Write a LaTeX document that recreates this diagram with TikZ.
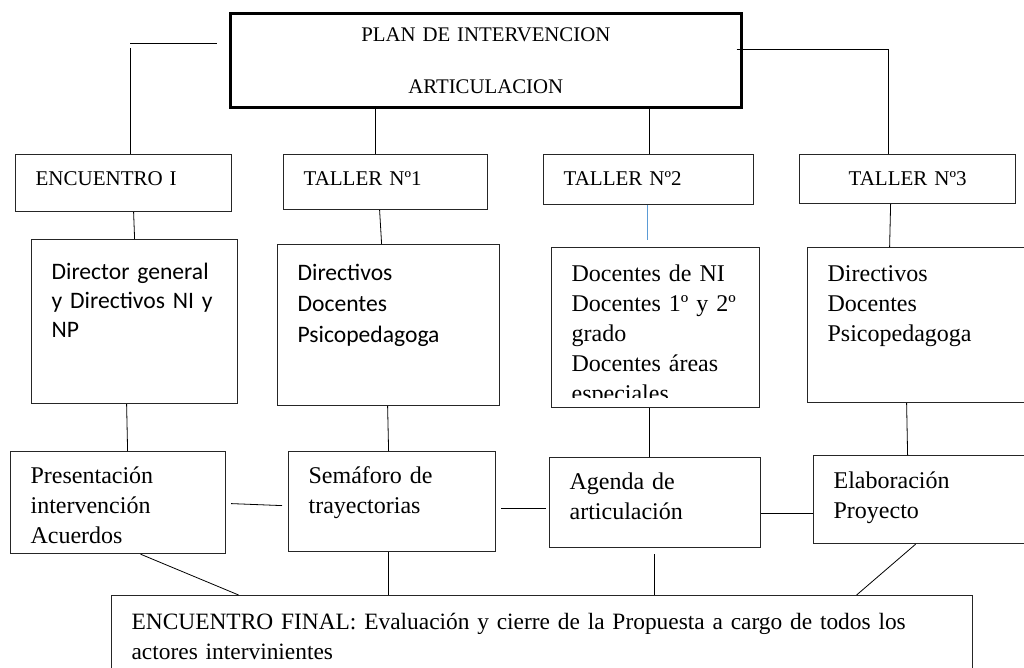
\documentclass[tikz,border=0pt]{standalone}
\usepackage{fontspec}
\setmainfont{Liberation Serif}
\newfontfamily\calibri{Carlito}
\usepackage{tikz}

\tikzset{
  caja/.style={draw=black!85, line width=1.2pt, anchor=north west,
    inner xsep=20pt, inner ysep=0pt, align=left},
  linea/.style={line width=0.8pt}
}

\begin{document}
\begin{tikzpicture}[x=1pt, y=-1pt]

\useasboundingbox (0,0) rectangle (1024,668);

% plan
\node[caja, line width=2.6pt, draw=black, align=center, text width=471pt,
  text height=28pt, text depth=66pt, font=\fontsize{20.8}{52}\selectfont]
  (top) at (229,12) {PLAN DE INTERVENCION\\ARTICULACION};

% encuentro y talleres
\node[caja, text width=176pt, text height=31pt, text depth=26pt,
  font=\fontsize{21}{26}\selectfont] (e1) at (15,154) {ENCUENTRO I};
\node[caja, text width=164pt, text height=31pt, text depth=24pt,
  font=\fontsize{21}{26}\selectfont] (t1) at (283,154) {TALLER Nº1};
\node[caja, text width=170pt, text height=31pt, text depth=19pt,
  font=\fontsize{21}{26}\selectfont] (t2) at (543,154) {TALLER Nº2};
\node[caja, align=center, text width=176pt, text height=31pt, text depth=18pt,
  font=\fontsize{21}{26}\selectfont] (t3) at (799,154) {TALLER Nº3};

% participantes
\node[caja, text width=166pt, text height=40pt, text depth=124pt,
  font=\calibri\fontsize{23.6}{29}\selectfont] (d1) at (31,239)
  {Director general\\y Directivos NI y\\NP};
\node[caja, text width=182pt, text height=36pt, text depth=125pt,
  font=\calibri\fontsize{23.6}{31}\selectfont] (d2) at (277,244)
  {Directivos\\Docentes\\Psicopedagoga};
\node[caja, text width=168pt, text height=34pt, text depth=126pt,
  font=\fontsize{24}{30}\selectfont] (d3) at (551,247)
  {Docentes de NI\\Docentes 1º y 2º\\grado\\Docentes áreas\\especiales};
\node[caja, text width=183pt, text height=34pt, text depth=121pt,
  font=\fontsize{24}{30}\selectfont] (d4) at (807,247)
  {Directivos\\Docentes\\Psicopedagoga};
% ultima linea cortada
\fill[white] ([xshift=1pt,yshift=1pt]d3.south west) rectangle ([xshift=-1pt,yshift=10pt]d3.south east);

% actividades
\node[caja, text width=175pt, text height=32pt, text depth=70pt,
  font=\fontsize{24}{30}\selectfont] (p1) at (10,451)
  {Presentación\\intervención\\Acuerdos};
\node[caja, text width=167pt, text height=32pt, text depth=68pt,
  font=\fontsize{24}{30}\selectfont] (p2) at (288,451)
  {Semáforo de\\trayectorias};
\node[caja, text width=171pt, text height=32pt, text depth=58pt,
  font=\fontsize{24}{30}\selectfont] (p3) at (549,457)
  {Agenda de\\articulación};
\node[caja, text width=177pt, text height=33pt, text depth=55pt,
  font=\fontsize{24}{30}\selectfont] (p4) at (813,455)
  {Elaboración\\Proyecto};

% cierre
\node[caja, text width=821pt, text height=34pt, text depth=51pt,
  font=\fontsize{23.4}{30}\selectfont] (fin) at (111,595)
  {ENCUENTRO FINAL: Evaluación y cierre de la Propuesta a cargo de todos los\\actores intervinientes};

% conectores de arriba
\coordinate (izq) at (130,43);
\coordinate (der) at (888,49);
\draw[linea] (izq) -- ([xshift=-12pt]top.west |- izq);
\draw[linea] ([yshift=-5pt]izq) -- (izq |- e1.north);
\draw[linea] ([xshift=-6pt]top.east |- der) -- (der) -- (der |- t3.north);
\draw[linea] ([xshift=-10pt]t1.north) -- ([xshift=-10pt]t1.north |- top.south);
\draw[linea] ([xshift=1pt]t2.north) -- ([xshift=1pt]t2.north |- top.south);

\draw[linea] ([xshift=10pt]e1.south) -- (d1.north);
\draw[linea] ([xshift=-6pt]t1.south) -- ([xshift=-7pt]d2.north);
\draw[linea, draw={rgb,255:red,91;green,155;blue,213}]
  ([xshift=-1pt]t2.south) -- ([xshift=-8pt,yshift=7pt]d3.north);
\draw[linea] ([xshift=-17pt]t3.south) -- ([xshift=-29.5pt]d4.north);

\draw[linea] ([xshift=-8pt]d1.south) -- ([xshift=9.5pt]p1.north);
\draw[linea] ([xshift=-1pt]d2.south) -- ([xshift=-3.5pt]p2.north);
\draw[linea] ([xshift=-6pt]d3.south) -- ([xshift=-5.5pt]p3.north);
\draw[linea] ([xshift=-12.5pt]d4.south) -- ([xshift=-14.5pt]p4.north);

% entre actividades
\draw[linea] ([xshift=5pt,yshift=-1pt]p1.east) -- ([xshift=-6pt,yshift=-4pt]p2.west);
\draw[linea] ([xshift=5pt,yshift=-7pt]p2.east) -- ([xshift=-3pt,yshift=-6pt]p3.west);
\draw[linea] ([yshift=-11pt]p3.east) -- ([yshift=-14pt]p4.west);

% hacia el cierre
\draw[linea] ([xshift=22.5pt]p1.south) -- ([xshift=-303.5pt]fin.north);
\draw[linea] ([xshift=-3.5pt]p2.south) -- ([xshift=-3.5pt]p2.south |- fin.north);
\draw[linea] ([xshift=-0.5pt,yshift=-6pt]p3.south) -- ([xshift=-0.5pt]p3.south |- fin.north);
\draw[linea] ([xshift=-6.5pt]p4.south) -- ([xshift=314.5pt]fin.north);

\end{tikzpicture}
\end{document}
